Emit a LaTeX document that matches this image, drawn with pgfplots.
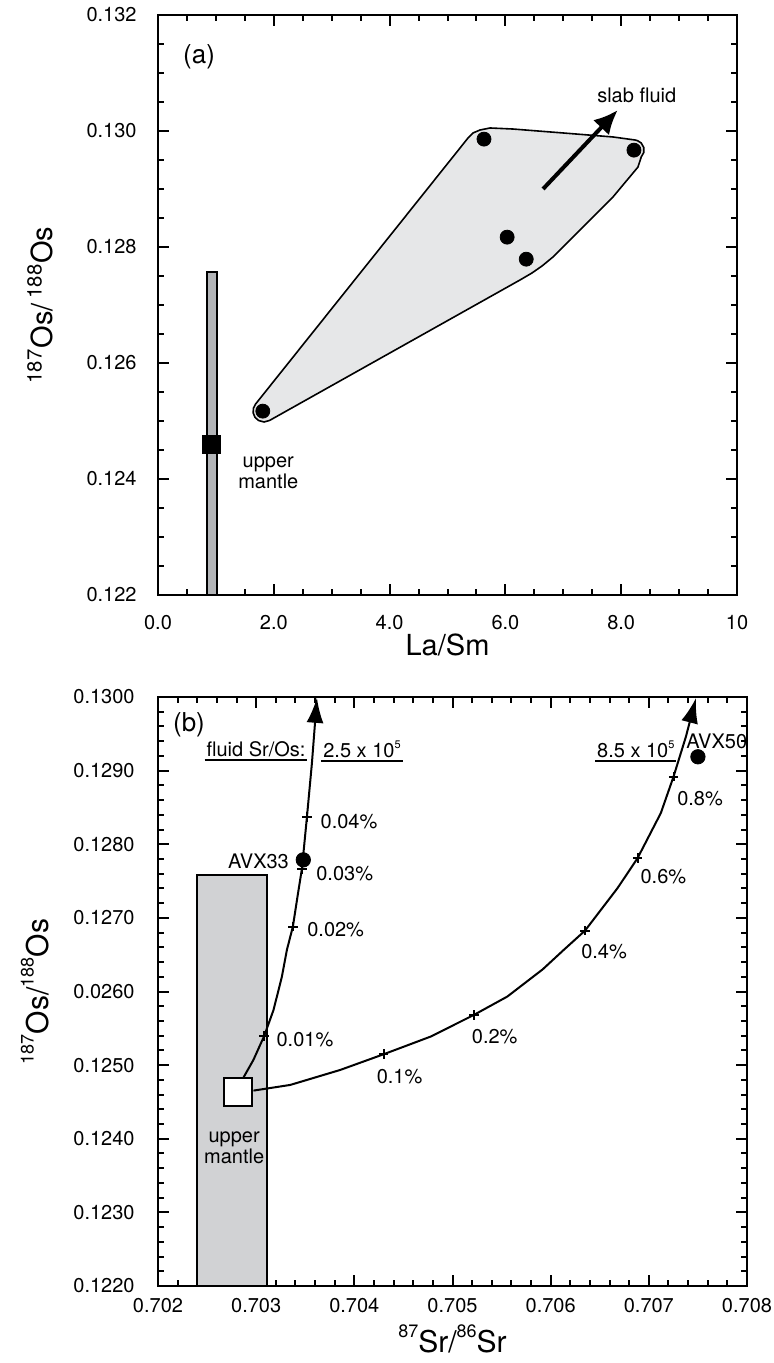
\documentclass[border=0pt]{standalone}
\usepackage{fontspec}
\setmainfont{TeX Gyre Heros}
\usepackage{pgfplots}
\pgfplotsset{compat=1.18}
\usetikzlibrary{arrows.meta}
\definecolor{envgray}{HTML}{E6E7E8}
\definecolor{bargray}{HTML}{B3B5B8}
\definecolor{boxgray}{HTML}{D1D2D4}
\newcommand\ulin[1]{\setbox0\hbox{#1}\rlap{\hspace{-1pt}\rule[-2.2pt]{\dimexpr\wd0+2pt\relax}{1pt}}\box0}
\newcommand\supb[1]{\raisebox{7.5pt}{\fontsize{9}{9}\selectfont #1}}
\begin{document}
\begin{tikzpicture}
\useasboundingbox (0,0) rectangle (386.5pt,-681.5pt);
\pgfplotsset{
  myax/.style={
    scale only axis, clip=false,
    axis line style={line width=1.1pt},
    tick style={line width=1pt, black},
    tick align=inside,
    major tick length=5.5pt,
    minor tick length=3pt,
    /pgf/number format/assume math mode=true,
  }
}
% ---------------- Panel (a)
\begin{axis}[myax,
  at={(79pt,-7.5pt)}, anchor=north west,
  width=289.5pt, height=290pt,
  xmin=0, xmax=10, ymin=0.122, ymax=0.132,
  xtick={0,2,4,6,8,10}, xticklabels={0.0,2.0,4.0,6.0,8.0,10},
  ytick={0.122,0.124,0.126,0.128,0.130,0.132},
  yticklabels={0.122,0.124,0.126,0.128,0.130,0.132},
  minor x tick num=3, minor y tick num=3,
  ticklabel style={font=\fontsize{10}{12}\selectfont, inner sep=0pt},
  xticklabel style={yshift=-10pt},
  yticklabel style={xshift=-10.5pt},
  xlabel={La/Sm},
  xlabel style={at={(axis description cs:0.5,-0.0862)}, anchor=center, font=\fontsize{14.5}{16}\selectfont},
  ylabel={\textsuperscript{187}Os/\,\textsuperscript{188}Os},
  ylabel style={at={(axis description cs:-0.2038,0.5)}, anchor=center, font=\fontsize{14.5}{16}\selectfont},
]
\addplot[draw=black, line width=0.8pt, fill=envgray] coordinates {
 (1.684,0.125291) (1.648,0.125221) (1.644,0.125140) (1.675,0.125064)
 (1.736,0.125009) (1.831,0.124983) (1.926,0.125009)
 (6.252,0.127431) (6.459,0.127552) (6.632,0.127672) (6.822,0.127828)
 (7.288,0.128293) (7.858,0.128862) (8.290,0.129379)
 (8.347,0.129555) (8.389,0.129628) (8.389,0.129717) (8.344,0.129795)
 (8.280,0.129834) (8.237,0.129845)
 (7.858,0.129897) (6.995,0.129966) (6.131,0.130034) (5.734,0.130052)
 (5.561,0.130017) (5.440,0.129966) (5.354,0.129879)
} -- cycle;
\addplot[draw=black, line width=1pt, fill=bargray] coordinates {
 (0.85,0.122) (1.02,0.122) (1.02,0.12757) (0.85,0.12757)} -- cycle;
\addplot[only marks, mark=square*, mark size=4.5pt, black] coordinates {(0.925,0.12459)};
\addplot[only marks, mark=*, mark size=3.5pt, black] coordinates {
 (1.81,0.12517) (5.63,0.12986) (8.22,0.12967) (6.03,0.12817) (6.36,0.12779)};
\addplot[line width=2pt, black, -{Latex[length=12pt,width=11pt]}] coordinates {(6.65,0.12900) (7.94,0.13036)};
\node[font=\fontsize{13}{15}\selectfont, inner sep=0pt] at (axis cs:0.709,0.131281) {(a)};
\node[font=\fontsize{10}{12}\selectfont, inner sep=0pt] at (axis cs:8.268,0.130621) {slab fluid};
\node[font=\fontsize{10}{10.5}\selectfont, inner sep=0pt, align=center] at (axis cs:1.905,0.124103) {upper\\mantle};
\end{axis}
% ---------------- Panel (b)
\begin{axis}[myax,
  at={(79pt,-348.5pt)}, anchor=north west,
  width=294.5pt, height=294.5pt,
  xmin=0.702, xmax=0.708, ymin=0.122, ymax=0.130,
  xtick={0.702,0.703,0.704,0.705,0.706,0.707,0.708},
  xticklabels={0.702,0.703,0.704,0.705,0.706,0.707,0.708},
  ytick={0.122,0.123,0.124,0.125,0.126,0.127,0.128,0.129,0.130},
  yticklabels={0.1220,0.1230,0.1240,0.1250,0.0260,0.1270,0.1280,0.1290,0.1300},
  minor x tick num=4, minor y tick num=4,
  ticklabel style={font=\fontsize{10}{12}\selectfont, inner sep=0pt},
  xticklabel style={yshift=-5.8pt},
  yticklabel style={xshift=-11.5pt},
  xlabel={\supb{87}Sr/\supb{86}Sr},
  xlabel style={at={(axis description cs:0.5,-0.09)}, anchor=center, font=\fontsize{15}{17}\selectfont},
  ylabel={\supb{187}Os/\supb{188}Os},
  ylabel style={at={(axis description cs:-0.2088,0.5)}, anchor=center, font=\fontsize{15}{17}\selectfont},
]
\addplot[draw=black, line width=1pt, fill=boxgray] coordinates {
 (0.702398,0.122) (0.703112,0.122) (0.703112,0.127584) (0.702398,0.127584)} -- cycle;
% curve fluid Sr/Os 2.5e5
\addplot[black, line width=1pt, -{Latex[length=12.5pt,width=8.5pt]}] coordinates {
 (0.702870,0.124830) (0.702972,0.125071) (0.703082,0.125397) (0.703177,0.125750)
 (0.703262,0.126202) (0.703313,0.126565) (0.703374,0.126882) (0.703421,0.127289)
 (0.703466,0.127666) (0.703517,0.128368) (0.703568,0.129102) (0.703619,0.129989)};
% curve fluid Sr/Os 8.5e5
\addplot[black, line width=1pt, -{Latex[length=12.5pt,width=8.5pt]}] coordinates {
 (0.702972,0.124654) (0.703347,0.124731) (0.703857,0.124935) (0.704299,0.125148)
 (0.704776,0.125387) (0.705218,0.125682) (0.705558,0.125931) (0.705918,0.126300)
 (0.706133,0.126565) (0.706350,0.126827) (0.706681,0.127404) (0.706885,0.127811)
 (0.707122,0.128423) (0.707252,0.128920) (0.707378,0.129463) (0.707480,0.129985)};
% mixing ticks
\addplot[only marks, mark=+, mark size=2.4pt, black, mark options={line width=1pt}] coordinates {
 (0.703082,0.125397) (0.703374,0.126882) (0.703466,0.127666) (0.703517,0.128368)
 (0.704299,0.125148) (0.705218,0.125682) (0.706350,0.126827) (0.706885,0.127811) (0.707252,0.128920)};
\addplot[only marks, mark=square*, mark size=7pt, mark options={fill=white, draw=black, line width=1pt}] coordinates {(0.702816,0.124636)};
\addplot[only marks, mark=*, mark size=3.6pt, black] coordinates {(0.703480,0.127788) (0.707500,0.129188)};
\begin{scope}[every node/.style={font=\fontsize{10}{12}\selectfont, inner sep=0pt}]
\node[anchor=east] at (axis cs:0.703337,0.127769) {AVX33};
\node[anchor=west] at (axis cs:0.707378,0.129395) {AVX50};
\node[anchor=west] at (axis cs:0.703653,0.128309) {0.04\%};
\node[anchor=west] at (axis cs:0.703609,0.127607) {0.03\%};
\node[anchor=west] at (axis cs:0.703517,0.126837) {0.02\%};
\node[anchor=west] at (axis cs:0.703204,0.125352) {0.01\%};
\node at (axis cs:0.704461,0.124844) {0.1\%};
\node at (axis cs:0.705430,0.125387) {0.2\%};
\node at (axis cs:0.706544,0.126542) {0.4\%};
\node at (axis cs:0.707148,0.127561) {0.6\%};
\node at (axis cs:0.707522,0.128626) {0.8\%};
\node at (axis cs:0.702998,0.129260) {\ulin{fluid Sr/Os:}};
\node at (axis cs:0.704078,0.129260) {\ulin{2.5 x 10\raisebox{0.9ex}{\fontsize{5.5}{5.5}\selectfont 5}}};
\node at (axis cs:0.706867,0.129260) {\ulin{8.5 x 10\raisebox{0.9ex}{\fontsize{5.5}{5.5}\selectfont 5}}};
\node[align=center, font=\fontsize{10}{10.5}\selectfont] at (axis cs:0.702776,0.123875) {upper\\mantle};
\node[font=\fontsize{13}{15}\selectfont] at (axis cs:0.702316,0.129618) {(b)};
\end{scope}
\end{axis}
\end{tikzpicture}
\end{document}
